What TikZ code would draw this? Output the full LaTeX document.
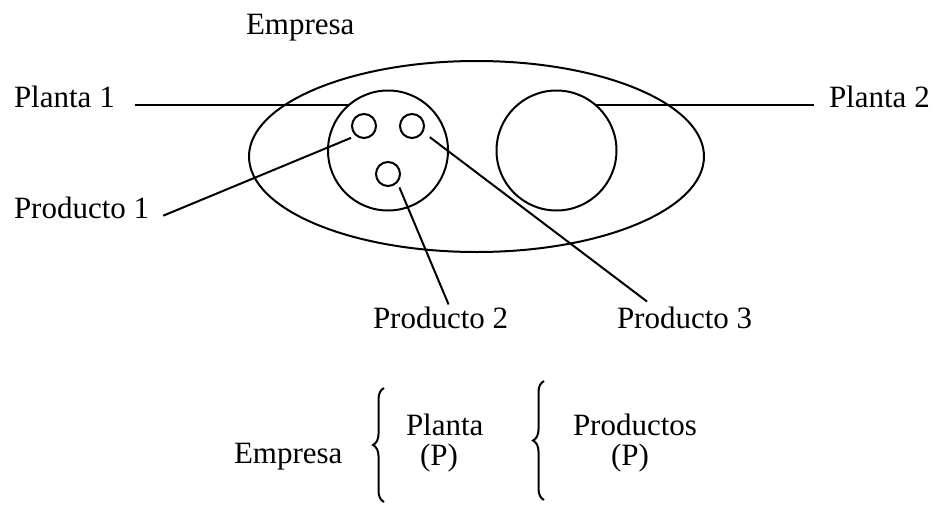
\documentclass[tikz,border=0pt]{standalone}
\usepackage{fontspec}
\setmainfont{Liberation Serif}
\usetikzlibrary{shapes.geometric,decorations.pathreplacing}

\begin{document}
\begin{tikzpicture}[x=1pt,y=-1pt,line width=2pt,
  every node/.style={inner sep=0pt,font=\fontsize{31}{37}\selectfont},
  pointer/.style={shorten <=5pt}]
  \tikzstyle{planta}=[circle,draw,minimum size=120pt]
  \tikzstyle{producto}=[circle,draw,minimum size=24pt]
  \tikzstyle{llave}=[draw,decorate,decoration={brace,amplitude=11pt}]

  \useasboundingbox (0,0) rectangle (935,504);

  % la empresa y sus plantas
  \node[ellipse,draw,minimum width=455pt,minimum height=191pt] (emp) at (476.5,156.5) {};
  \node[planta]   (p1) at (388,150.5) {};
  \node[planta]   (p2) at (556.5,150.5) {};
  \node[producto] (s1) at (364,126) {};
  \node[producto] (s2) at (412,126) {};
  \node[producto] (s3) at (388,174) {};

  % etiquetas
  \node[anchor=base west] (empl) at (245,34)  {Empresa};
  \node[anchor=base west] (pl1)  at (13,107)  {Planta 1};
  \node[anchor=base west] (pl2)  at (828,107) {Planta 2};
  \node[anchor=base west] (pr1)  at (13,218)  {Producto 1};
  \node[anchor=base west] (pr2)  at (372,328) {Producto 2};
  \node[anchor=base west] (pr3)  at (616,328) {Producto 3};

  \draw ([xshift=19pt]pl1.mid east) -- (pl1.mid east -| p1.128);
  \draw ([xshift=-14pt]pl2.mid west) -- (pl2.mid west -| p2.50);
  \draw[pointer] (s1.230) -- ([xshift=13pt]pr1.mid east);
  \draw[pointer] (s3.317) -- ([xshift=8pt,yshift=1pt]pr2.north);
  \draw[shorten <=8pt] (s2.331) -- ([xshift=31pt,yshift=4pt]pr3.north west);

  % esquema de abajo
  \node[anchor=base west] (emp2) at (233,463) {Empresa};
  \node[anchor=base west] (pla)  at (405,435) {Planta};
  \node[anchor=base west] (plap) at (419,465) {(P)};
  \node[anchor=base west] (pro)  at (572,435) {Productos};
  \node[anchor=base west] (prop) at (610,465) {(P)};

  \coordinate (b1bot) at (384,502);
  \coordinate (b1top) at (384,388);
  \coordinate (b2bot) at (544,500);
  \coordinate (b2top) at (544,381);
  \path[llave] (b1bot) -- (b1top);
  \path[llave] (b2bot) -- (b2top);
\end{tikzpicture}
\end{document}
